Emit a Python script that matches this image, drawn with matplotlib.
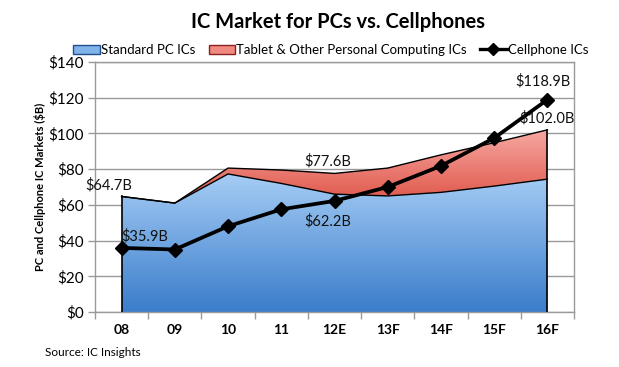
import matplotlib
matplotlib.use("Agg")
import matplotlib.pyplot as plt
import numpy as np
from matplotlib.colors import LinearSegmentedColormap
from matplotlib.patches import Patch
from matplotlib.lines import Line2D

categories = ["08", "09", "10", "11", "12E", "13F", "14F", "15F", "16F"]
standard_pc = [64.7, 61.0, 77.3, 72.0, 66.0, 65.0, 67.0, 70.5, 74.4]
pc_total = [64.7, 61.0, 80.6, 79.5, 77.6, 80.6, 88.0, 94.8, 102.0]
cellphone = [35.9, 35.0, 48.0, 57.5, 62.2, 70.0, 81.8, 97.4, 118.9]
y_ticks = [0, 20, 40, 60, 80, 100, 120, 140]

plt.rcParams['font.family'] = ['Lato', 'DejaVu Sans']

fig = plt.figure(figsize=(6.19, 3.67), dpi=100)
ax = fig.add_axes([95/619, 55/367, 479/619, 250/367])

x = np.arange(len(categories))

def gradient_fill(ax, xs, lower, upper, c_top, c_bot, ymin, ymax):
    poly = ax.fill_between(xs, lower, upper, facecolor='none', edgecolor='none', zorder=2)
    cmap = LinearSegmentedColormap.from_list('g', [c_bot, c_top])
    grad = np.linspace(0, 1, 256).reshape(-1, 1)
    im = ax.imshow(grad, cmap=cmap, aspect='auto', origin='lower',
                   extent=[xs[0], xs[-1], ymin, ymax], zorder=2, interpolation='bicubic')
    path = poly.get_paths()[0]
    im.set_clip_path(path, transform=ax.transData)
    return poly

gradient_fill(ax, x, np.zeros(len(x)), standard_pc, '#a6cdf5', '#3a7dcb', 0, max(standard_pc))
gradient_fill(ax, x, standard_pc, pc_total, '#f6a9a2', '#df5549', min(standard_pc), max(pc_total))

ax.plot(x, pc_total, color='black', lw=1.0, zorder=3)
ax.plot(x, standard_pc, color='black', lw=1.0, zorder=3)
ax.plot([x[0], x[0]], [0, standard_pc[0]], color='black', lw=1.2, zorder=3)
ax.plot([x[-1], x[-1]], [0, pc_total[-1]], color='black', lw=1.2, zorder=3)

ax.plot(x, cellphone, color='black', lw=2.7, marker='D', markersize=7.5, zorder=4)

ax.set_xlim(-0.5, len(x) - 0.5)
ax.set_ylim(0, 140)
ax.set_yticks(y_ticks)
ax.set_yticklabels([f"${v}" for v in y_ticks], fontsize=11)
ax.yaxis.grid(True, color='#9a9a9a', lw=1.0)
ax.set_axisbelow(True)
ax.set_xticks(x)
ax.set_xticklabels(categories, fontsize=10, fontweight='bold')
ax.set_xticks(np.arange(-0.5, len(x), 1), minor=True)
ax.tick_params(axis='x', which='major', length=0, pad=9)
ax.tick_params(axis='x', which='minor', length=5, color='#9a9a9a', width=1.0)
ax.tick_params(axis='y', length=5, color='#9a9a9a', width=1.0, pad=3)
for s in ax.spines.values():
    s.set_color('#9a9a9a')
    s.set_linewidth(1.0)

ax.set_ylabel('PC and Cellphone IC Markets ($B)', fontsize=8, fontweight='bold', labelpad=2)

# data labels
lab_kw = dict(fontsize=10.5, color='#111111', zorder=5)
ax.annotate(f"${standard_pc[0]:.1f}B", (x[0], pc_total[0]), xytext=(-26, 5), textcoords='offset points', **lab_kw)
ax.annotate(f"${cellphone[0]:.1f}B", (x[0], cellphone[0]), xytext=(0, 5), textcoords='offset points', **lab_kw)
ax.annotate(f"${pc_total[4]:.1f}B", (x[4], pc_total[4]), xytext=(-22, 6), textcoords='offset points', **lab_kw)
ax.annotate(f"${cellphone[4]:.1f}B", (x[4], cellphone[4]), xytext=(-22, -18), textcoords='offset points', **lab_kw)
ax.annotate(f"${pc_total[8]:.1f}B", (x[8], pc_total[8]), xytext=(-20, 5), textcoords='offset points', **lab_kw)
ax.annotate(f"${cellphone[8]:.1f}B", (x[8], cellphone[8]), xytext=(-23, 10), textcoords='offset points', **lab_kw)

fig.text(338/619, 1 - 22/367, 'IC Market for PCs vs. Cellphones', ha='center', va='center',
         fontsize=14.5, fontweight='bold')

handles = [Patch(facecolor='#7fb3ea', edgecolor='#1f4f8a', lw=1),
           Patch(facecolor='#f08a80', edgecolor='#8a1f1f', lw=1),
           Line2D([0], [0], color='black', lw=2.4, marker='D', markersize=6)]
labels = ['Standard PC ICs', 'Tablet & Other Personal Computing ICs', 'Cellphone ICs']
fig.legend(handles, labels, loc='center', bbox_to_anchor=(331/619, 1 - 50/367), ncol=3,
           frameon=False, fontsize=9.5, handlelength=2.0, handleheight=0.7,
           handletextpad=0.1, columnspacing=1.0, borderaxespad=0)

fig.text(45/619, 1 - 353/367, 'Source: IC Insights', ha='left', va='center', fontsize=8.5)

fig.savefig('out.png', dpi=100)
